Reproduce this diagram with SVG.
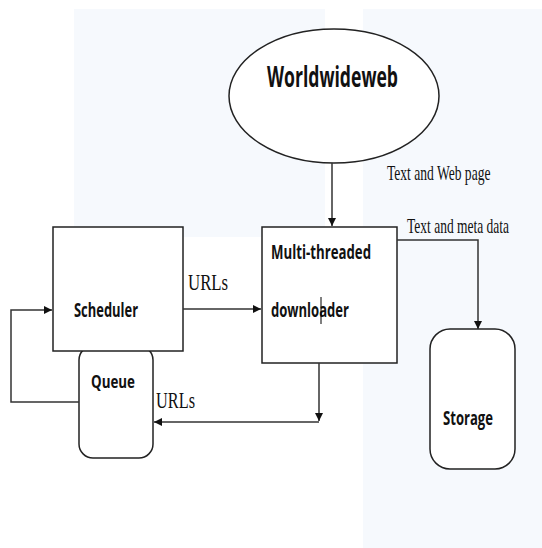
<svg xmlns="http://www.w3.org/2000/svg" width="542" height="548" viewBox="0 0 542 548">
<style>
.node{fill:#fff;stroke:#222;stroke-width:1.5}
.lbl{font-family:"Open Sans","Liberation Sans",sans-serif;font-weight:bold;fill:#111}
.edge{font-family:"Liberation Serif","Times New Roman",serif;fill:#111}
.conn{fill:none;stroke:#333;stroke-width:1.5}
</style>
<defs>
<marker id="ah" viewBox="0 0 10 10" refX="10" refY="5" markerWidth="8" markerHeight="8" markerUnits="userSpaceOnUse" orient="auto">
<path d="M0,0 L10,5 L0,10 Z" fill="#111"/>
</marker>
</defs>
<rect width="542" height="548" fill="#fff"/>
<rect x="74" y="9" width="251" height="228" fill="#f6f9fd"/>
<rect x="363" y="9" width="179" height="539" fill="#f6f9fd"/>

<g id="worldwideweb">
<ellipse class="node" cx="334" cy="96" rx="105" ry="67" stroke-width="1.2"/>
<text class="lbl" x="267" y="87" font-size="28" textLength="131" lengthAdjust="spacingAndGlyphs">Worldwideweb</text>
</g>
<g id="queue">
<rect class="node" x="79" y="346" width="74" height="112" rx="14" stroke-width="1.2"/>
<text class="lbl" x="91" y="388" font-size="18" textLength="44" lengthAdjust="spacingAndGlyphs">Queue</text>
</g>
<g id="scheduler">
<rect class="node" x="53" y="227" width="130" height="124"/>
<text class="lbl" x="74" y="317" font-size="20" textLength="64" lengthAdjust="spacingAndGlyphs">Scheduler</text>
</g>
<g id="downloader">
<rect class="node" x="262" y="227" width="135" height="136"/>
<text class="lbl" x="271" y="259" font-size="20" textLength="100" lengthAdjust="spacingAndGlyphs">Multi-threaded</text>
<text class="lbl" x="271" y="317" font-size="20" textLength="78" lengthAdjust="spacingAndGlyphs">downloader</text>
<line x1="321" y1="297" x2="321" y2="324" stroke="#000" stroke-width="1"/>
</g>
<g id="storage">
<rect class="node" x="430" y="329" width="85" height="140" rx="20" stroke-width="1.2"/>
<text class="lbl" x="443" y="425" font-size="19" textLength="50" lengthAdjust="spacingAndGlyphs">Storage</text>
</g>

<g id="connectors">
<path class="conn" d="M332,163 V226" marker-end="url(#ah)"/>
<path class="conn" d="M183,309 H261" marker-end="url(#ah)"/>
<path class="conn" d="M79,402 H11 V310 H52" marker-end="url(#ah)"/>
<path class="conn" d="M319,363 V421" marker-end="url(#ah)"/>
<path class="conn" d="M319,422 H154" marker-end="url(#ah)"/>
<path class="conn" d="M397,240 H478 V329" marker-end="url(#ah)"/>
<text class="edge" font-size="24" transform="translate(188,290) scale(0.7,1)">URLs</text>
<text class="edge" font-size="24" transform="translate(156,408) scale(0.68,1)">URLs</text>
<text class="edge" font-size="21" transform="translate(387,180) scale(0.646,1)">Text and Web page</text>
<text class="edge" font-size="21" transform="translate(407,233) scale(0.643,1)">Text and meta data</text>
</g>
</svg>
